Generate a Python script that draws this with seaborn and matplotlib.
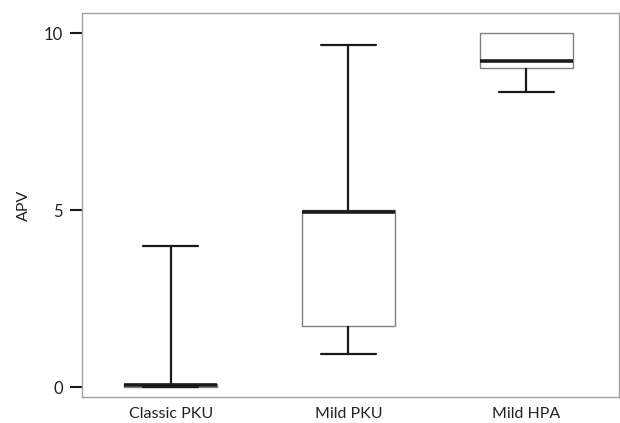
import matplotlib
matplotlib.use("Agg")
import matplotlib.pyplot as plt
import seaborn as sns
import pandas as pd
import numpy as np

# Five-number summaries (min, Q1, median, Q3, max)
categories = ["Classic PKU", "Mild PKU", "Mild HPA"]
classic_pku = [0.0, 0.0, 0.07, 0.1, 4.0]
mild_pku = [0.94, 1.73, 4.94, 5.0, 9.67]
mild_hpa = [8.34, 9.03, 9.22, 10.0, 10.0]
yticks = [0, 5, 10]

series = [classic_pku, mild_pku, mild_hpa]
rows = []
for cat, vals in zip(categories, series):
    for v in vals:
        rows.append({"group": cat, "APV": v})
df = pd.DataFrame(rows)

sns.set_theme(style="white")
plt.rcParams["font.family"] = ["Lato", "DejaVu Sans"]

fig = plt.figure(figsize=(6.2, 4.23), dpi=100)
ax = fig.add_axes([82/620, 1 - 397/423, (618.5-82)/620, (397-13)/423])

sns.boxplot(
    data=df, x="group", y="APV", order=categories, ax=ax,
    whis=(0, 100), width=0.524, fliersize=0, color="white",
    boxprops=dict(facecolor="white", edgecolor="#808080", linewidth=1.0),
    whiskerprops=dict(color="#1a1a1a", linewidth=1.6),
    capprops=dict(color="#1a1a1a", linewidth=1.6),
    medianprops=dict(color="#1a1a1a", linewidth=2.6),
    capwidths=0.31,
)

# Upper caps that coincide with the box top are not drawn in the reference
for i, vals in enumerate(series):
    if vals[-1] == vals[-2]:
        for ln in ax.lines:
            xd, yd = np.asarray(ln.get_xdata()), np.asarray(ln.get_ydata())
            if (len(yd) == 2 and yd[0] == yd[1] == vals[-1]
                    and abs(xd.mean() - i) < 0.01 and abs(xd[1] - xd[0]) < 0.4):
                ln.set_visible(False)

ax.set_xlim(-0.5, 2.52)
ax.set_ylim(-0.28, 10.57)
ax.set_yticks(yticks)
ax.set_yticklabels([str(t) for t in yticks])
ax.set_xlabel("")
ax.set_ylabel("APV", fontsize=11.5, color="#222222", labelpad=9)
ax.tick_params(axis="y", left=True, length=8.6, width=1.5, color="#1a1a1a",
               labelsize=12, labelcolor="#222222", pad=5)
ax.tick_params(axis="x", bottom=False, labelsize=11.5, labelcolor="#222222", pad=1)
for s in ax.spines.values():
    s.set_color("#a0a0a0")
    s.set_linewidth(1.0)
    s.set_visible(True)

fig.savefig("out.png", dpi=100)
